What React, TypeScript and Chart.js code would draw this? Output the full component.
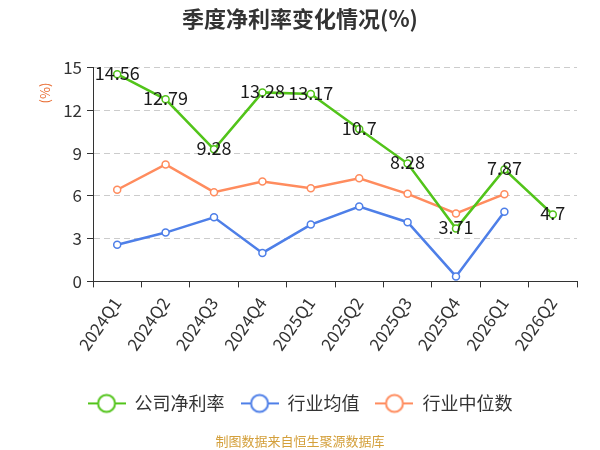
import React, { useEffect, useRef } from 'react';
import { Chart, registerables } from 'chart.js';

Chart.register(...registerables);

const FONT = '"Noto Sans CJK SC", "Noto Sans", sans-serif';

const titleText = '季度净利率变化情况(%)';
const yAxisTitle = '(%)';
const sourceText = '制图数据来自恒生聚源数据库';

const categories = ['2024Q1', '2024Q2', '2024Q3', '2024Q4', '2025Q1', '2025Q2', '2025Q3', '2025Q4', '2026Q1', '2026Q2'];
const seriesNames = ['公司净利率', '行业均值', '行业中位数'];
const companyNetMargin = [14.56, 12.79, 9.28, 13.28, 13.17, 10.7, 8.28, 3.71, 7.87, 4.7];
const industryMean = [2.58, 3.43, 4.5, 2.0, 3.99, 5.26, 4.16, 0.35, 4.89, null];
const industryMedian = [6.44, 8.22, 6.27, 7.02, 6.55, 7.25, 6.15, 4.77, 6.13, null];
const yTicks = [0, 3, 6, 9, 12, 15];

const colors = ['#52C41A', '#4E7FE8', '#FF8C5E'];

function makeIcon(color: string) {
  const c = document.createElement('canvas');
  c.width = 38;
  c.height = 22;
  const ctx = c.getContext('2d')!;
  ctx.strokeStyle = color;
  ctx.lineWidth = 2;
  ctx.beginPath();
  ctx.moveTo(0, 11);
  ctx.lineTo(38, 11);
  ctx.stroke();
  ctx.beginPath();
  ctx.arc(19, 11, 8.5, 0, Math.PI * 2);
  ctx.fillStyle = '#fff';
  ctx.fill();
  ctx.stroke();
  return c;
}

const valueLabels = {
  id: 'valueLabels',
  afterDatasetsDraw(chart: any) {
    const meta = chart.getDatasetMeta(0);
    const ctx = chart.ctx;
    ctx.save();
    ctx.font = `18px ${FONT}`;
    ctx.fillStyle = '#1a1a1a';
    ctx.textAlign = 'center';
    ctx.textBaseline = 'middle';
    meta.data.forEach((pt: any, i: number) => {
      const v = companyNetMargin[i];
      if (v == null) return;
      ctx.fillText(String(v), pt.x, pt.y - 1);
    });
    ctx.restore();
  },
};

const axisTitle = {
  id: 'axisTitle',
  afterDraw(chart: any) {
    const ctx = chart.ctx;
    ctx.save();
    ctx.translate(45, 93);
    ctx.rotate(-Math.PI / 2);
    ctx.font = `13px ${FONT}`;
    ctx.fillStyle = '#E8692E';
    ctx.textAlign = 'center';
    ctx.textBaseline = 'middle';
    ctx.fillText(yAxisTitle, 0, 0);
    ctx.restore();
  },
};

export default function App() {
  const ref = useRef<HTMLCanvasElement | null>(null);
  useEffect(() => {
    document.body.style.margin = '0';
    const icons = colors.map(makeIcon);
    const chart = new Chart(ref.current!, {
      type: 'line',
      data: {
        labels: categories,
        datasets: [companyNetMargin, industryMean, industryMedian].map((d, i) => ({
          label: seriesNames[i],
          data: d,
          borderColor: colors[i],
          backgroundColor: colors[i],
          borderWidth: 2.5,
          pointRadius: 3.5,
          pointHoverRadius: 3.5,
          pointBackgroundColor: '#fff',
          pointBorderColor: colors[i],
          pointBorderWidth: 1.5,
          tension: 0,
          spanGaps: false,
          fill: false,
        })),
      },
      options: {
        responsive: false,
        animation: false,
        events: [],
        layout: { padding: { left: 0, right: 0, top: 0, bottom: 1 } },
        plugins: {
          title: {
            display: true,
            text: titleText,
            color: '#333',
            font: { family: FONT, size: 22, weight: 'bold' },
            padding: { top: 5.5, bottom: 36 },
          },
          subtitle: {
            display: true,
            position: 'bottom',
            text: sourceText,
            color: '#D4A03C',
            font: { family: FONT, size: 13 },
            padding: { top: 11, bottom: 0 },
          },
          legend: {
            display: true,
            position: 'bottom',
            labels: {
              usePointStyle: true,
              pointStyleWidth: 38,
              boxHeight: 18,
              padding: 16,
              color: '#333',
              font: { family: FONT, size: 18 },
              generateLabels: (c: any) =>
                c.data.datasets.map((ds: any, i: number) => ({
                  text: ds.label,
                  pointStyle: icons[i],
                  fillStyle: 'transparent',
                  strokeStyle: 'transparent',
                  lineWidth: 0,
                  hidden: false,
                  datasetIndex: i,
                  fontColor: '#333',
                })),
            },
          },
          tooltip: { enabled: false },
        },
        scales: {
          x: {
            type: 'category',
            offset: true,
            afterFit: (s: any) => {
              s.height = 97;
            },
            grid: {
              display: true,
              drawOnChartArea: false,
              drawTicks: true,
              tickLength: 6,
              tickColor: '#333',
              offset: true,
            },
            border: { display: true, color: '#333', width: 1 },
            ticks: {
              autoSkip: false,
              maxRotation: 55,
              minRotation: 55,
              padding: 6,
              color: '#333',
              font: { family: FONT, size: 17 },
            },
          },
          y: {
            type: 'linear',
            min: 0,
            max: 15,
            afterFit: (s: any) => {
              s.width = 93;
            },
            afterBuildTicks: (s: any) => {
              s.ticks = yTicks.map((v) => ({ value: v }));
            },
            grid: {
              display: true,
              drawOnChartArea: true,
              drawTicks: true,
              tickLength: 6,
              tickColor: '#333',
              color: (ctx: any) => (ctx.tick && ctx.tick.value === 0 ? 'rgba(0,0,0,0)' : '#cccccc'),
              lineWidth: 1,
            },
            border: { display: true, color: '#333', width: 1, dash: [6, 4] },
            ticks: {
              padding: 5,
              color: '#333',
              font: { family: FONT, size: 17 },
            },
          },
          yRight: {
            type: 'linear',
            position: 'right',
            display: true,
            afterFit: (s: any) => {
              s.width = 23;
            },
            grid: { display: false, drawOnChartArea: false },
            border: { display: false },
            ticks: { display: false },
          },
        },
      },
      plugins: [valueLabels, axisTitle],
    } as any);
    return () => chart.destroy();
  }, []);
  return (
    <div style={{ position: 'absolute', left: 0, top: 0, width: 600, height: 450 }}>
      <canvas ref={ref} width={600} height={450} style={{ width: 600, height: 450 }} />
    </div>
  );
}
